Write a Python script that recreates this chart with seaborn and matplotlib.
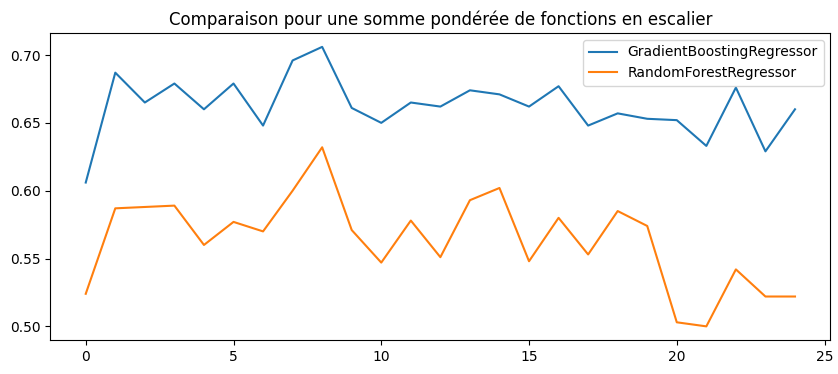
import numpy as np
import pandas as pd
import matplotlib
matplotlib.use("Agg")
import matplotlib.pyplot as plt
import seaborn as sns

steps = list(range(25))
gbr_scores = [0.606, 0.687, 0.665, 0.679, 0.660, 0.679, 0.648, 0.696, 0.706, 0.661,
              0.650, 0.665, 0.662, 0.674, 0.671, 0.662, 0.677, 0.648, 0.657, 0.653,
              0.652, 0.633, 0.676, 0.629, 0.660]
rfr_scores = [0.524, 0.587, 0.588, 0.589, 0.560, 0.577, 0.570, 0.600, 0.632, 0.571,
              0.547, 0.578, 0.551, 0.593, 0.602, 0.548, 0.580, 0.553, 0.585, 0.574,
              0.503, 0.500, 0.542, 0.522, 0.522]

df = pd.DataFrame({
    "step": steps * 2,
    "score": gbr_scores + rfr_scores,
    "model": ["GradientBoostingRegressor"] * 25 + ["RandomForestRegressor"] * 25,
})

fig, ax = plt.subplots(figsize=(8.38, 3.74), dpi=100)
fig.subplots_adjust(left=0.06, right=0.991, top=0.912, bottom=0.09)

sns.lineplot(data=df, x="step", y="score", hue="model",
             palette=["#1f77b4", "#ff7f0e"], ax=ax)

ax.set_title("Comparaison pour une somme pondérée de fonctions en escalier")
ax.set_xlabel("")
ax.set_ylabel("")
ax.set_xticks([0, 5, 10, 15, 20, 25])
ax.legend(title=None, loc="upper right")

fig.savefig("out.png", dpi=100)
